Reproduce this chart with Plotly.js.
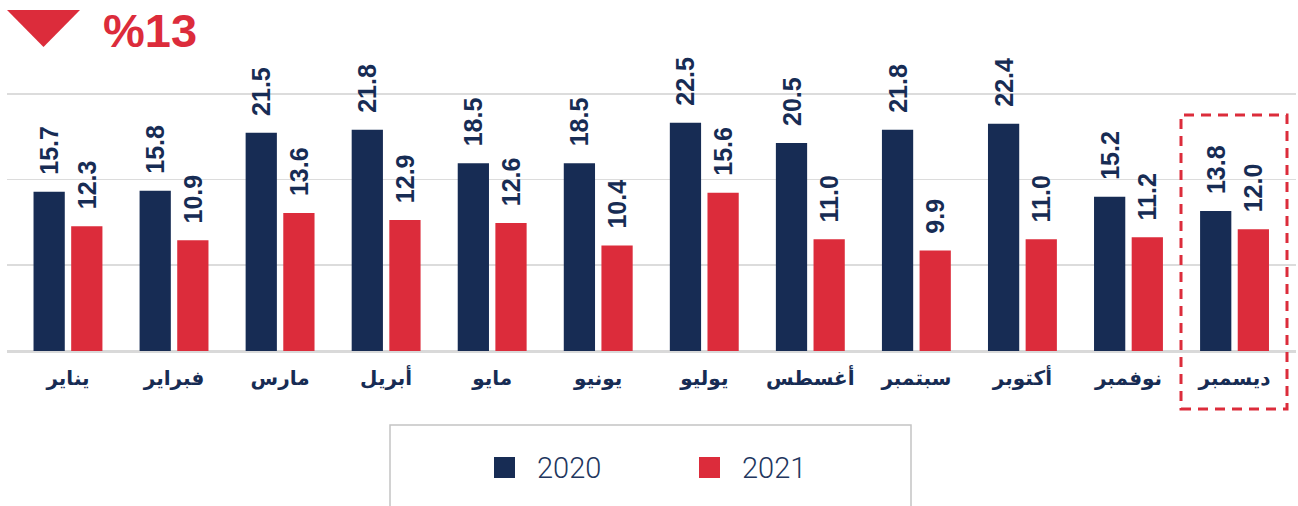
<!DOCTYPE html>
<html>
<head>
<meta charset="utf-8">
<script src="https://cdn.plot.ly/plotly-3.0.1.min.js"></script>
<style>html,body{margin:0;padding:0;background:#fff;}#chart{width:1298px;height:506px;}</style>
</head>
<body>
<div id="chart"></div>
<script>
// ---- data ----
const months = ['يناير','فبراير','مارس','أبريل','مايو','يونيو','يوليو','أغسطس','سبتمبر','أكتوبر','نوفمبر','ديسمبر'];
const series2020 = [15.7,15.8,21.5,21.8,18.5,18.5,22.5,20.5,21.8,22.4,15.2,13.8];
const series2021 = [12.3,10.9,13.6,12.9,12.6,10.4,15.6,11.0,9.9,11.0,11.2,12.0];
const seriesNames = ['2020','2021'];
const changeLabel = '%13';

// ---- style ----
const NAVY = '#172c54';
const RED = '#dc2c3b';
const W = 1298, H = 506;
const ML = 7, MR = 2, MT = 0, MB = 155;
const PW = W - ML - MR, PH = H - MT - MB;
const px = x => (x - ML) / PW;          // pixel -> paper x
const py = y => (MT + PH - y) / PH;     // pixel -> paper y

const labelFont = {family: 'Liberation Sans, Arial, sans-serif', size: 25, color: NAVY, weight: 700};
const pad = '\u00a0\u00a0';

const traces = [
  {type: 'bar', name: seriesNames[0], x: months, y: series2020, marker: {color: NAVY},
   texttemplate: pad + '%{y:.1f}', textposition: 'outside', textangle: -90,
   textfont: labelFont, constraintext: 'none', cliponaxis: false, hoverinfo: 'x+y'},
  {type: 'bar', name: seriesNames[1], x: months, y: series2021, marker: {color: RED},
   texttemplate: pad + '%{y:.1f}', textposition: 'outside', textangle: -90,
   textfont: labelFont, constraintext: 'none', cliponaxis: false, hoverinfo: 'x+y'}
];

const shapes = [
  // dashed highlight box around December
  {type: 'rect', xref: 'paper', yref: 'paper', x0: px(1181), x1: px(1287), y0: py(409), y1: py(115),
   line: {color: RED, width: 3, dash: '10px,7px'}, fillcolor: 'rgba(0,0,0,0)'},
  // down triangle
  {type: 'path', xref: 'paper', yref: 'paper',
   path: `M ${px(7)} ${py(10)} L ${px(80)} ${py(10)} L ${px(43.5)} ${py(47)} Z`,
   fillcolor: RED, line: {width: 0}},
  // legend box
  {type: 'rect', xref: 'paper', yref: 'paper', x0: px(390), x1: px(911), y0: py(530), y1: py(425),
   line: {color: '#c4c4c4', width: 1.5}, fillcolor: 'rgba(0,0,0,0)'},
  // legend swatches
  {type: 'rect', xref: 'paper', yref: 'paper', x0: px(494), x1: px(515), y0: py(478), y1: py(457),
   line: {width: 0}, fillcolor: NAVY},
  {type: 'rect', xref: 'paper', yref: 'paper', x0: px(699), x1: px(720), y0: py(478), y1: py(457),
   line: {width: 0}, fillcolor: RED}
];

const annotations = [
  {xref: 'paper', yref: 'paper', x: px(101), y: py(31), xanchor: 'left', yanchor: 'middle',
   text: changeLabel, showarrow: false,
   font: {family: 'Liberation Sans, Arial, sans-serif', size: 47, color: RED, weight: 700}},
  {xref: 'paper', yref: 'paper', x: px(535), y: py(468), xanchor: 'left', yanchor: 'middle',
   text: seriesNames[0], showarrow: false,
   font: {family: 'Roboto, Liberation Sans, sans-serif', size: 29, color: '#22365e', weight: 300}},
  {xref: 'paper', yref: 'paper', x: px(740), y: py(468), xanchor: 'left', yanchor: 'middle',
   text: seriesNames[1], showarrow: false,
   font: {family: 'Roboto, Liberation Sans, sans-serif', size: 29, color: '#22365e', weight: 300}}
];

const layout = {
  width: W, height: H,
  margin: {l: ML, r: MR, t: MT, b: MB, pad: 0},
  paper_bgcolor: '#fff', plot_bgcolor: '#fff',
  showlegend: false,
  barmode: 'group', bargap: 0.29, bargroupgap: 0.17,
  xaxis: {type: 'category', range: [-0.575, -0.575 + PW / 106.05], showgrid: false, zeroline: false,
          showline: false, ticks: '', tickfont: {family: 'DejaVu Sans, sans-serif', size: 20, color: NAVY, weight: 700},
          ticklabelstandoff: 13, fixedrange: true},
  yaxis: {range: [0, PH / 10.15], tickvals: [8.45, 16.9, 25.35], showticklabels: false,
          showgrid: true, gridcolor: '#dcdcdc', gridwidth: 1.6,
          zeroline: true, zerolinecolor: '#d9d9d9', zerolinewidth: 3, showline: false, fixedrange: true},
  shapes: shapes,
  annotations: annotations
};

Plotly.newPlot('chart', traces, layout, {displayModeBar: false, staticPlot: true});
</script>
</body>
</html>
